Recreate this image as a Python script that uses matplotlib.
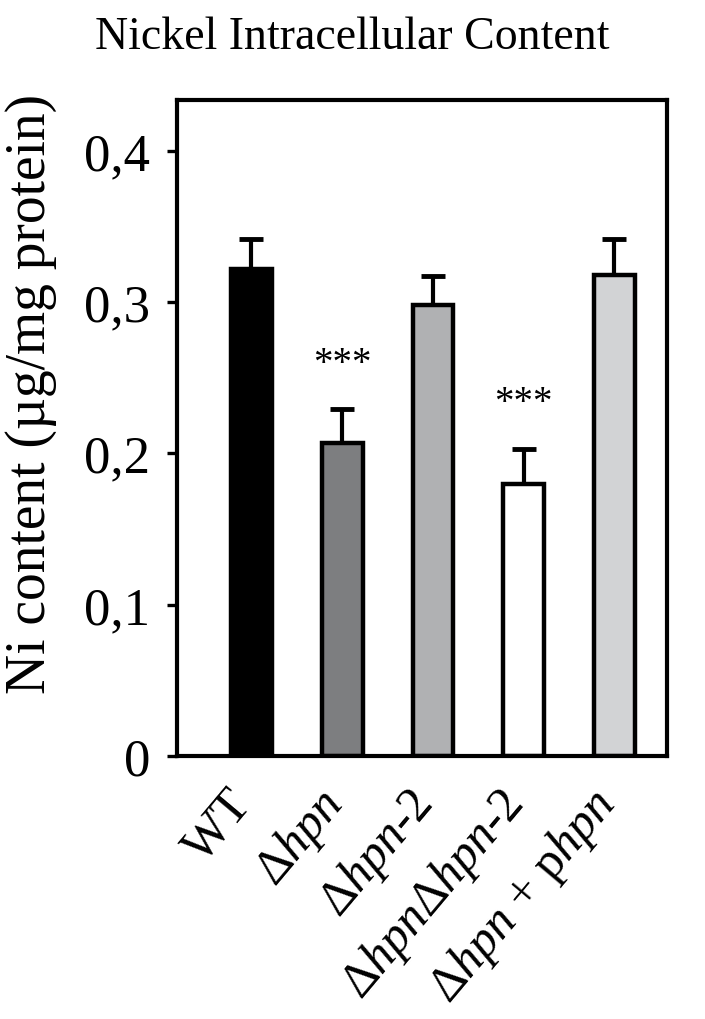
import matplotlib
matplotlib.use("Agg")
import matplotlib.pyplot as plt
import matplotlib.transforms as mtransforms
import numpy as np

categories = ["WT", r"$\Delta\mathit{hpn}$", r"$\Delta\mathit{hpn}$-2",
              r"$\Delta\mathit{hpn}\Delta\mathit{hpn}$-2", r"$\Delta\mathit{hpn}$ + p$\mathit{hpn}$"]
values = [0.322, 0.207, 0.298, 0.180, 0.318]
errors = [0.020, 0.022, 0.019, 0.023, 0.024]
signif = ["", "***", "", "***", ""]
colors = ["#000000", "#7d7e80", "#b0b1b3", "#ffffff", "#d2d3d5"]
yticks = [0, 0.1, 0.2, 0.3, 0.4]
yticklabels = ["0", "0,1", "0,2", "0,3", "0,4"]

plt.rcParams["font.family"] = ["Liberation Serif", "DejaVu Serif"]
plt.rcParams["mathtext.fontset"] = "custom"
plt.rcParams["mathtext.rm"] = "Liberation Serif"
plt.rcParams["mathtext.it"] = "Liberation Serif:italic"

fig = plt.figure(figsize=(7.05, 10.2), dpi=100)
ax = fig.add_axes([0.251, 0.258, 0.695, 0.643])

x = np.arange(len(values))
ax.bar(x, values, width=0.45, color=colors, edgecolor="black", linewidth=3.2, zorder=2)
ax.errorbar(x, values, yerr=[np.zeros(len(values)), errors], fmt="none",
            ecolor="black", elinewidth=3, capsize=8.5, capthick=3.5, zorder=1)

for xi, v, e, s in zip(x, values, errors, signif):
    if s:
        ax.text(xi, v + e + 0.024, s, ha="center", va="baseline", fontsize=28)

ax.set_xlim(-0.821, 4.578)
ax.set_ylim(0, 0.4336)
ax.set_yticks(yticks)
ax.set_yticklabels(yticklabels, fontsize=38)
ax.tick_params(axis="y", direction="out", length=7.2, width=2.4, pad=12)
ax.set_xticks(x)
ax.set_xticklabels(categories, fontsize=36, rotation=50, ha="right",
                   va="center", rotation_mode="anchor")
ax.tick_params(axis="x", length=0, pad=29)
shift = mtransforms.ScaledTranslation(-8 / 100, 0, fig.dpi_scale_trans)
for lbl in ax.get_xticklabels():
    lbl.set_transform(lbl.get_transform() + shift)
for sp in ax.spines.values():
    sp.set_linewidth(3)

ax.set_ylabel("Ni content (µg/mg protein)", fontsize=40, va="center")
ax.yaxis.set_label_coords(-0.298, 0.553)
fig.text(0.5, 1 - 38 / 1020, "Nickel Intracellular Content", ha="center",
         va="center", fontsize=33)

fig.savefig("out.png", dpi=100)
